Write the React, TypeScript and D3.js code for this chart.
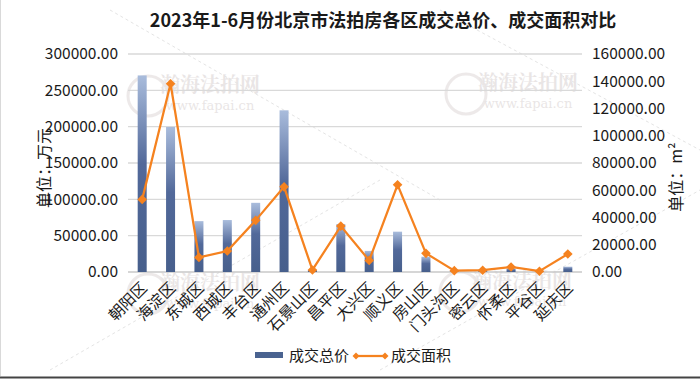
import React from "react";
import * as d3 from "d3";

const categories = ["朝阳区","海淀区","东城区","西城区","丰台区","通州区","石景山区","昌平区","大兴区","顺义区","房山区","门头沟区","密云区","怀柔区","平谷区","延庆区"];
const totalPrice = [270500, 199600, 70000, 71500, 95200, 222500, 3000, 66000, 29000, 55500, 21000, 1000, 1200, 5000, 1000, 7300];
const totalArea = [53300, 138200, 10700, 15400, 37900, 62500, 1500, 33700, 8500, 64000, 13700, 1000, 1300, 3700, 600, 13200];
const leftTicks = [0, 50000, 100000, 150000, 200000, 250000, 300000];
const rightTicks = [0, 20000, 40000, 60000, 80000, 100000, 120000, 140000, 160000];
const title = "2023年1-6月份北京市法拍房各区成交总价、成交面积对比";
const seriesNames = ["成交总价", "成交面积"];

const W = 700, H = 379;
const FONT = "'Noto Sans CJK SC', 'Noto Sans', sans-serif";

export default function App() {
  const x = d3.scaleBand().domain(categories).range([128, 582]).padding(0);
  const yL = d3.scaleLinear().domain([0, 300000]).range([272, 54]);
  const yR = d3.scaleLinear().domain([0, 160000]).range([272, 54]);
  const cx = (c: string) => (x(c) as number) + x.bandwidth() / 2;
  const barW = 9;
  const line = d3.line<number>().x((_, i) => cx(categories[i])).y((d) => yR(d));
  const diamond = (r: number) => `M0,${-r}L${r},0L0,${r}L${-r},0Z`;
  const fmt = (v: number) => v.toFixed(2);

  const wm = [
    { x: 210, y: 92 }, { x: 528, y: 90 }, { x: 210, y: 290 }, { x: 522, y: 288 },
  ];

  return (
    <svg width={W} height={H} style={{ position: "fixed", left: 0, top: 0, background: "#fff" }} fontFamily={FONT}>
      <defs>
        <linearGradient id="barG" x1="0" y1="0" x2="0" y2="1">
          <stop offset="0%" stopColor="#a9bcdc" />
          <stop offset="45%" stopColor="#52699a" />
          <stop offset="100%" stopColor="#475f8c" />
        </linearGradient>
      </defs>
      <rect x={0} y={0} width={W} height={H} fill="#fff" />
      {/* watermarks */}
      <g opacity={0.22} fill="#a08c8c">
        {wm.map((p, i) => (
          <g key={i}>
            <circle cx={p.x - 62} cy={p.y + 4} r={20} fill="none" stroke="#b0a0a0" strokeWidth={3} />
            <text x={p.x} y={p.y} fontSize={20} fontWeight="bold" textAnchor="middle" fontFamily="'Noto Serif CJK SC', 'Noto Sans CJK SC', serif">瀚海法拍网</text>
            <text x={p.x} y={p.y + 18} fontSize={13} textAnchor="middle" fontFamily="'DejaVu Serif', serif">www.fapai.cn</text>
          </g>
        ))}
      </g>
      <g stroke="#e4e4e4" strokeDasharray="3,3" strokeWidth={1} fill="none">
        <line x1={110} y1={10} x2={440} y2={200} />
        <line x1={440} y1={10} x2={700} y2={150} />
        <line x1={50} y1={370} x2={380} y2={180} />
        <line x1={380} y1={370} x2={700} y2={190} />
      </g>
      {/* title */}
      <text x={383} y={27} fontSize={18} fontWeight="bold" textAnchor="middle" fill="#1a1a1a">{title}</text>
      {/* gridlines */}
      {leftTicks.map((t) => (
        <line key={t} x1={128} x2={582} y1={yL(t)} y2={yL(t)} stroke={t === 0 ? "#c8c8c8" : "#d9d9d9"} strokeWidth={1.3} />
      ))}
      {/* left ticks */}
      {leftTicks.map((t) => (
        <text key={t} x={118} y={yL(t)} dy="0.35em" fontSize={15.5} textAnchor="end" fill="#1a1a1a">{fmt(t)}</text>
      ))}
      {rightTicks.map((t) => (
        <text key={t} x={592} y={yR(t)} dy="0.35em" fontSize={15.5} textAnchor="start" fill="#1a1a1a">{fmt(t)}</text>
      ))}
      {/* axis titles */}
      <text transform="translate(44,168) rotate(-90)" fontSize={16} textAnchor="middle" dy="0.35em" fill="#1a1a1a">单位：万元</text>
      <text transform="translate(676,177) rotate(-90)" fontSize={16} textAnchor="middle" dy="0.35em" fill="#1a1a1a">单位：m²</text>
      {/* bars */}
      {categories.map((c, i) => (
        <rect key={c} x={cx(c) - barW / 2} width={barW} y={yL(totalPrice[i])} height={yL(0) - yL(totalPrice[i])} fill="url(#barG)" />
      ))}
      {/* line */}
      <path d={line(totalArea) as string} fill="none" stroke="#f5821f" strokeWidth={2.25} />
      {totalArea.map((v, i) => (
        <path key={i} d={diamond(4.8)} transform={`translate(${cx(categories[i])},${yR(v)})`} fill="#f5821f" />
      ))}
      {/* x labels */}
      {categories.map((c) => (
        <text key={c} transform={`translate(${cx(c) + 2},${285}) rotate(-45)`} textAnchor="end" dy="0.35em" fontSize={15.5} fill="#1a1a1a">{c}</text>
      ))}
      {/* legend */}
      <rect x={255} y={352} width={28} height={6} fill="#4a6390" />
      <text x={289} y={356} dy="0.35em" fontSize={15} fill="#1a1a1a">{seriesNames[0]}</text>
      <line x1={355} x2={386} y1={356} y2={356} stroke="#f5821f" strokeWidth={2.25} />
      <path d={diamond(3.5)} transform="translate(356,356)" fill="#f5821f" />
      <path d={diamond(3.5)} transform="translate(385,356)" fill="#f5821f" />
      <text x={391} y={356} dy="0.35em" fontSize={15} fill="#1a1a1a">{seriesNames[1]}</text>
      {/* border */}
      <line x1={0.5} y1={0} x2={0.5} y2={376} stroke="#d9d9d9" />
      <line x1={0} y1={377.5} x2={700} y2={377.5} stroke="#444" strokeWidth={2} />
    </svg>
  );
}
